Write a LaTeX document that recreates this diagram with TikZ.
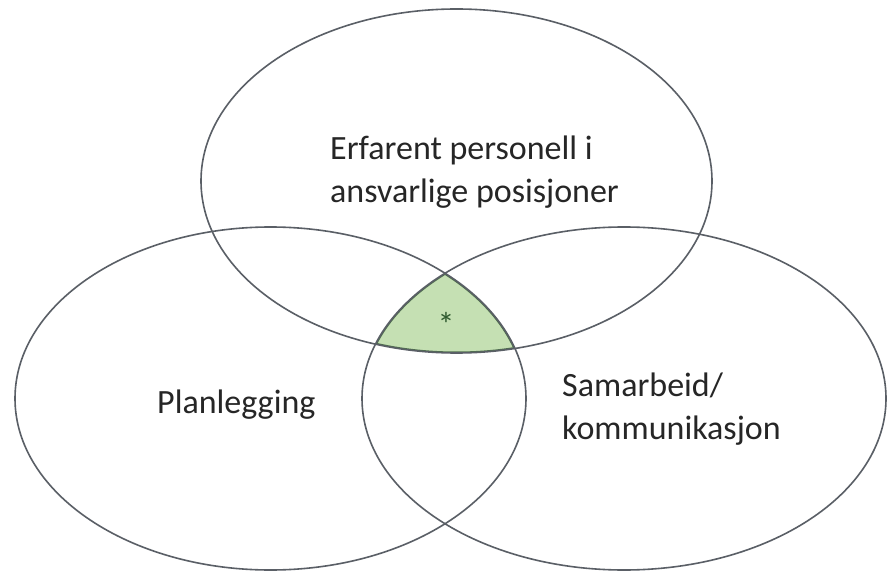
\documentclass[tikz,border=0pt]{standalone}
\usepackage{fontspec}
\setmainfont{Carlito}
\definecolor{rim}{HTML}{5A5F66}
\definecolor{leaf}{HTML}{C5E0B3}
\definecolor{leafrim}{HTML}{4F6E4F}
\definecolor{ink}{HTML}{262626}
\definecolor{star}{HTML}{2F5A2F}
\begin{document}
\begin{tikzpicture}[x=1pt,y=-1pt,
  rimline/.style={draw=rim, line width=1.6pt},
  label/.style={font=\fontsize{34}{43}\selectfont, text=ink, align=left, inner sep=0pt},
]
\fill[white] (0,0) rectangle (889,572);
\useasboundingbox (0,0) rectangle (889,572);
\coordinate (ctop) at (456.5,181);
\coordinate (cleft) at (270.5,398.5);
\coordinate (cright) at (624,398.5);
% green intersection
\begin{scope}
  \clip (ctop) ellipse [x radius=255.5, y radius=172];
  \clip (cleft) ellipse [x radius=255.5, y radius=171.5];
  \clip (cright) ellipse [x radius=262, y radius=171.5];
  \fill[leaf] (0,0) rectangle (889,572);
  \draw[leafrim, line width=3pt] (ctop) ellipse [x radius=255.5, y radius=172];
  \draw[leafrim, line width=3pt] (cleft) ellipse [x radius=255.5, y radius=171.5];
  \draw[leafrim, line width=3pt] (cright) ellipse [x radius=262, y radius=171.5];
\end{scope}
\draw[rimline] (ctop) ellipse [x radius=255.5, y radius=172];
\draw[rimline] (cleft) ellipse [x radius=255.5, y radius=171.5];
\draw[rimline] (cright) ellipse [x radius=262, y radius=171.5];
\node[label, anchor=base west] (ttop) at (330,203) {Erfarent personell i\\ansvarlige posisjoner};
\node[label, anchor=base west] (tleft) at (157,413) {Planlegging};
\node[label, anchor=base west] (tright) at (562,439) {Samarbeid/\\kommunikasjon};
\node[font=\fontsize{34}{34}\selectfont, text=star, inner sep=0pt, anchor=base] (mark) at (446,336) {*};
\end{tikzpicture}
\end{document}
